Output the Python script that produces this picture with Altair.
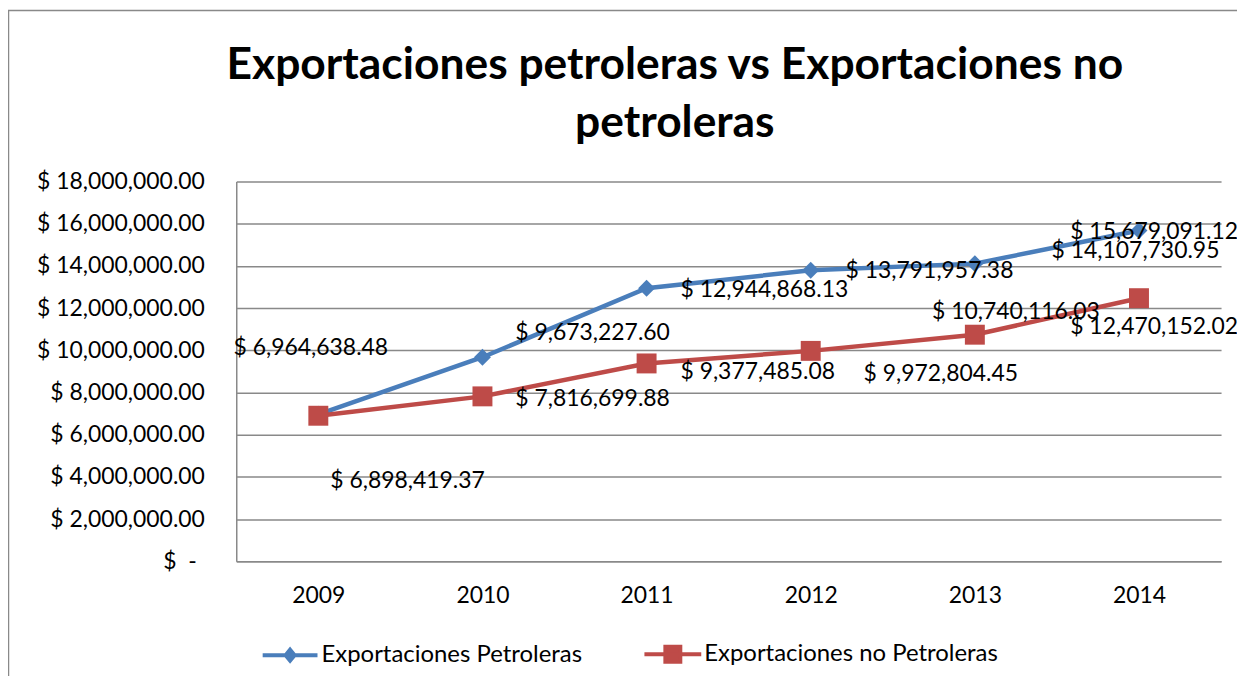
import altair as alt
import pandas as pd

# ---------------- data ----------------
years = ["2009", "2010", "2011", "2012", "2013", "2014"]
petroleras = [6964638.48, 9673227.60, 12944868.13, 13791957.38, 14107730.95, 15679091.12]
no_petroleras = [6898419.37, 7816699.88, 9377485.08, 9972804.45, 10740116.03, 12470152.02]
series_names = ["Exportaciones Petroleras", "Exportaciones no Petroleras"]
y_ticks = [0, 2000000, 4000000, 6000000, 8000000, 10000000, 12000000, 14000000, 16000000, 18000000]
title_lines = ["Exportaciones petroleras vs Exportaciones no", "petroleras"]

# label placement (pixel offsets from each point: to label's left edge, to label's centre)
offsets_pet = [(-85, -67), (33, -24), (34, 2), (35, 1), (77, -13), (-69, 2)]
offsets_nopet = [(12, 65), (33, 3), (34, 9), (53, 23), (-43, -23), (-69, 29)]

COLORS = ["#4A7EBB", "#BE4B48"]
FONT = "Lato"
GRID = "#898989"

rows = []
for s, vals in zip(series_names, [petroleras, no_petroleras]):
    for yr, v in zip(years, vals):
        rows.append({"year": yr, "value": v, "series": s, "label": "$ " + f"{v:,.2f}"})
df = pd.DataFrame(rows)

x_enc = alt.X(
    "year:O",
    scale=alt.Scale(domain=years, padding=0.5),
    axis=alt.Axis(title=None, labelAngle=0, labelPadding=23, ticks=False, grid=False,
                  domainColor=GRID, domainWidth=1.5),
)
y_enc = alt.Y(
    "value:Q",
    scale=alt.Scale(domain=[0, 18000000], nice=False, zero=True),
    axis=alt.Axis(
        title=None, values=y_ticks, ticks=False,
        labelPadding=alt.condition("datum.value == 0", alt.value(40), alt.value(32)),
        labelExpr="datum.value == 0 ? '$\u00a0\u00a0-' : '$ ' + format(datum.value, ',.2f')",
        grid=True, gridColor=GRID, gridWidth=1.5, domainColor=GRID, domainWidth=1.5,
    ),
)

base = alt.Chart(df)

# outer chart-area frame (decoration)
frame = alt.Chart(pd.DataFrame({"k": [0]})).mark_rect(
    fill=None, stroke=GRID, strokeWidth=1.5
).encode(x=alt.value(-228.5), y=alt.value(-171.5), x2=alt.value(2000), y2=alt.value(2000))

layers = [frame]
marker_shapes = ["diamond", "square"]
marker_sizes = [289, 400]
for i, s in enumerate(series_names):
    sub = base.transform_filter(alt.datum.series == s)
    layers.append(sub.mark_line(color=COLORS[i], strokeWidth=4.5).encode(x=x_enc, y=y_enc))
    layers.append(
        sub.mark_point(filled=True, opacity=1, shape=marker_shapes[i], size=marker_sizes[i], color=COLORS[i])
        .encode(x=x_enc, y=y_enc)
    )

for s, offs in zip(series_names, [offsets_pet, offsets_nopet]):
    for yr, (dx, dy) in zip(years, offs):
        layers.append(
            base.transform_filter((alt.datum.series == s) & (alt.datum.year == yr))
            .mark_text(align="left", baseline="middle", dx=dx, dy=dy, font=FONT, fontSize=23, color="black")
            .encode(x=x_enc, y=y_enc, text="label:N")
        )

# legend-only layer (no rows drawn) with line+marker symbols
diamond_path = "M-2.75,0L2.75,0M0,-0.55L0.45,0L0,0.55L-0.45,0Z"
square_path = "M-2.85,0L2.85,0M-0.75,-0.75L0.75,-0.75L0.75,0.75L-0.75,0.75Z"
legend_layer = base.transform_filter("false").mark_point(filled=True, opacity=1, strokeWidth=4).encode(
    x=x_enc, y=y_enc,
    color=alt.Color("series:N", scale=alt.Scale(domain=series_names, range=COLORS), legend=alt.Legend(title=None)),
    stroke=alt.Stroke("series:N", scale=alt.Scale(domain=series_names, range=COLORS), legend=alt.Legend(title=None)),
    shape=alt.Shape("series:N", scale=alt.Scale(domain=series_names, range=[diamond_path, square_path]),
                    legend=alt.Legend(title=None)),
)
layers.append(legend_layer)

chart = (
    alt.layer(*layers)
    .properties(
        width=988, height=381,
        autosize=alt.AutoSizeParams(type="none"),
        padding={"left": 229, "top": 173, "right": 16, "bottom": 114},
        title=alt.TitleParams(title_lines, anchor="middle", frame="group", dx=-54, offset=-172,
                              baseline="alphabetic",
                              font=FONT, fontSize=44.5, fontWeight="bold", color="black", lineHeight=58),
    )
    .configure_view(stroke=None)
    .configure_axis(labelFont=FONT, labelFontSize=23, labelColor="black")
    .configure_legend(
        orient="none", legendX=42, legendY=462, direction="horizontal",
        symbolSize=400, symbolStrokeWidth=4, labelOffset=19.5, columnPadding=53, labelLimit=600,
        labelFont=FONT, labelFontSize=24, labelColor="black", padding=0,
    )
)

chart.save("out.html", embed_options={"renderer": "svg", "actions": False})
